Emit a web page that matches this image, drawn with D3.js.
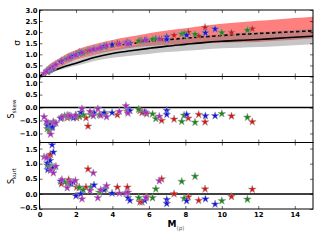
<!DOCTYPE html>
<html>
<head>
<meta charset="utf-8">
<script src="https://cdn.jsdelivr.net/npm/d3@7"></script>
<style>
  body { margin: 0; background: #fff; }
  text { font-family: "DejaVu Sans", sans-serif; }
</style>
</head>
<body>
<script>
// model curves for sigma panel
var massGrid   = [0, 0.5, 1, 1.5, 2, 3, 4, 5, 6, 7, 8, 9, 10, 11, 12, 13, 14, 15];
var redBandHi  = [0, 0.52, 0.78, 1.03, 1.2, 1.45, 1.65, 1.8, 1.95, 2.08, 2.18, 2.29, 2.38, 2.45, 2.51, 2.57, 2.64, 2.7];
var redBandLo  = [0, 0.2, 0.4, 0.58, 0.74, 0.98, 1.16, 1.3, 1.38, 1.43, 1.47, 1.5, 1.52, 1.54, 1.56, 1.61, 1.66, 1.71];
var dashedMean = [0, 0.3, 0.55, 0.75, 0.92, 1.18, 1.36, 1.48, 1.58, 1.66, 1.73, 1.79, 1.85, 1.9, 1.94, 1.98, 2.02, 2.06];
var solidMean  = [0, 0.17, 0.34, 0.48, 0.6, 0.86, 1.04, 1.16, 1.27, 1.37, 1.45, 1.53, 1.59, 1.63, 1.67, 1.72, 1.77, 1.82];
var grayBandHi = [0, 0.21, 0.41, 0.58, 0.72, 1.02, 1.23, 1.38, 1.52, 1.64, 1.74, 1.84, 1.91, 1.96, 2.01, 2.05, 2.1, 2.15];
var grayBandLo = [0, 0.13, 0.27, 0.38, 0.48, 0.7, 0.85, 0.94, 1.02, 1.1, 1.16, 1.22, 1.27, 1.3, 1.33, 1.37, 1.41, 1.45];

// star points
var redM     = [0.47, 0.54, 0.60, 1.20, 1.52, 1.60, 2.04, 2.18, 2.55, 2.66, 4.27, 4.82, 5.51, 5.62, 5.88, 6.70, 7.38, 8.16, 8.73, 9.08, 10.53, 11.67];
var redSigma = [0.28, 0.32, 0.36, 0.70, 0.80, 0.86, 0.98, 1.10, 1.12, 1.18, 1.50, 1.55, 1.62, 1.62, 1.66, 1.68, 1.86, 2.00, 1.83, 2.21, 1.98, 2.15];
var redSkew  = [-0.60, -0.90, -0.65, -0.40, -0.40, -0.32, -0.40, -0.35, -0.40, -0.72, -0.28, -0.15, -0.12, -0.20, -0.25, -0.50, -0.45, -0.41, -0.27, -0.56, -0.33, -0.55];
var redKurt  = [1.22, 1.25, 1.30, 0.33, 0.35, 0.47, 0.22, 0.22, 0.22, 0.82, 0.22, 0.22, -0.27, -0.27, -0.10, 0.49, 0.00, -0.10, -0.22, 0.16, -0.09, 0.15];

var greenM     = [0.43, 0.54, 0.61, 0.80, 1.38, 1.63, 2.18, 2.40, 2.81, 3.28, 3.61, 5.44, 6.20, 6.38, 7.80, 7.93, 8.53, 10.0, 11.4];
var greenSigma = [0.24, 0.30, 0.34, 0.46, 0.76, 0.84, 1.02, 1.08, 1.18, 1.28, 1.35, 1.60, 1.68, 1.72, 1.92, 1.94, 1.91, 1.98, 2.09];
var greenSkew  = [-0.82, -0.85, -0.75, -0.60, -0.32, -0.35, -0.32, -0.28, -0.28, -0.28, -0.25, -0.07, -0.25, -0.43, -0.54, -0.30, -0.57, -0.24, -0.38];
var greenKurt  = [0.95, 0.94, 0.80, 0.89, 0.39, 0.35, 0.20, 0.13, 0.22, 0.05, 0.17, -0.13, -0.13, 0.16, 0.41, -0.15, 0.58, -0.23, -0.18];

var blueM     = [0.43, 0.45, 0.58, 0.69, 0.72, 0.76, 1.16, 1.74, 1.86, 2.00, 2.26, 2.99, 3.54, 3.98, 4.85, 4.96, 5.77, 6.98, 6.98, 8.07, 9.10, 9.63];
var blueSigma = [0.22, 0.24, 0.32, 0.38, 0.40, 0.44, 0.66, 0.90, 0.94, 0.98, 1.06, 1.24, 1.36, 1.44, 1.52, 1.50, 1.64, 1.79, 1.67, 1.86, 1.97, 2.14];
var blueSkew  = [-0.70, -0.65, -0.67, -0.78, -0.74, -0.55, -0.42, -0.35, -0.40, -0.30, -0.18, -0.20, -0.20, -0.20, -0.09, -0.12, -0.17, -0.11, -0.27, -0.27, -0.32, -0.32];
var blueKurt  = [1.02, 0.80, 1.10, 1.62, 0.85, 1.38, 0.42, 0.33, 0.38, -0.07, 0.00, 0.29, 0.13, 0.02, -0.13, -0.22, -0.22, -0.19, -0.32, -0.23, -0.17, -0.34];

var magM     = [0.25, 0.39, 0.61, 0.76, 0.90, 1.23, 1.52, 1.67, 1.97, 2.33, 2.77, 2.95, 3.20, 3.36, 3.68, 4.38, 4.74, 4.85, 5.84, 6.57];
var magSigma = [0.14, 0.22, 0.36, 0.44, 0.54, 0.70, 0.80, 0.86, 0.96, 1.08, 1.18, 1.22, 1.26, 1.30, 1.40, 1.48, 1.52, 1.46, 1.64, 1.70];
var magSkew  = [-0.36, -0.54, -1.03, -0.57, -0.60, -0.37, -0.30, -0.32, -0.30, -0.05, -0.15, -0.32, -0.05, -0.30, -0.36, -0.15, 0.07, -0.22, -0.20, -0.34];
var magKurt  = [1.22, 1.20, 0.78, 0.69, 0.91, 0.47, 0.20, 0.40, 0.44, -0.17, 0.11, 0.69, -0.13, 0.13, 0.27, 0.02, 0.03, 0.05, -0.13, 0.43];

var xTicks = [0, 2, 4, 6, 8, 10, 12, 14];
var sigmaTicks = [0, 0.5, 1, 1.5, 2, 2.5, 3];
var skewTicks = [-1, -0.5, 0, 0.5, 1];
var kurtTicks = [-0.5, 0, 0.5, 1, 1.5];

var width = 320, height = 240;
var left = 39.5, right = 313;

var series = [
  {color: "#e01010", m: redM, s: redSigma, k1: redSkew, k2: redKurt},
  {color: "#138a13", m: greenM, s: greenSigma, k1: greenSkew, k2: greenKurt},
  {color: "#1010f0", m: blueM, s: blueSigma, k1: blueSkew, k2: blueKurt},
  {color: "#b521c8", m: magM, s: magSigma, k1: magSkew, k2: magKurt}
];

var svg = d3.select("body").append("svg")
    .attr("width", width)
    .attr("height", height);

var x = d3.scaleLinear().domain([0, 15]).range([left, right]);

var panels = [
  {top: 10, bottom: 76.5, domain: [0, 3], ticks: sigmaTicks, key: "s", zero: false},
  {top: 76.5, bottom: 142.5, domain: [-1.35, 1.2], ticks: skewTicks, key: "k1", zero: true},
  {top: 142.5, bottom: 209, domain: [-0.5, 1.7], ticks: kurtTicks, key: "k2", zero: true}
];

var fmt = d3.format(".1f");

panels.forEach(function(p, i) {
  var y = d3.scaleLinear().domain(p.domain).range([p.bottom, p.top]);
  var g = svg.append("g");
  var clipId = "clip" + i;
  svg.append("clipPath").attr("id", clipId)
    .append("rect")
      .attr("x", left).attr("y", p.top)
      .attr("width", right - left).attr("height", p.bottom - p.top);

  var plot = g.append("g").attr("clip-path", "url(#" + clipId + ")");

  if (i === 0) {
    var band = function(lo, hi) {
      return d3.area()
        .x(function(d, j) { return x(massGrid[j]); })
        .y0(function(d, j) { return y(lo[j]); })
        .y1(function(d, j) { return y(hi[j]); })
        .curve(d3.curveMonotoneX)(massGrid);
    };
    var line = function(vals) {
      return d3.line()
        .x(function(d, j) { return x(massGrid[j]); })
        .y(function(d, j) { return y(vals[j]); })
        .curve(d3.curveMonotoneX)(massGrid);
    };
    plot.append("path").attr("d", band(redBandLo, redBandHi))
      .attr("fill", "#ff0000").attr("fill-opacity", 0.5);
    plot.append("path").attr("d", band(grayBandLo, grayBandHi))
      .attr("fill", "#808080").attr("fill-opacity", 0.45);
    plot.append("path").attr("d", line(dashedMean))
      .attr("fill", "none").attr("stroke", "#000").attr("stroke-width", 1.6)
      .attr("stroke-dasharray", "3.5,2.5");
    plot.append("path").attr("d", line(solidMean))
      .attr("fill", "none").attr("stroke", "#000").attr("stroke-width", 1.6);
  }

  if (p.zero) {
    plot.append("line")
      .attr("x1", left).attr("x2", right)
      .attr("y1", y(0)).attr("y2", y(0))
      .attr("stroke", "#000").attr("stroke-width", 1.5);
  }

  // stars
  series.forEach(function(sr) {
    plot.append("g").selectAll("path")
      .data(sr.m)
      .join("path")
        .attr("transform", function(d, j) { return "translate(" + x(d) + "," + y(sr[p.key][j]) + ")"; })
        .attr("d", d3.symbol().type(d3.symbolStar).size(19))
        .attr("fill", sr.color)
        .attr("stroke", "#9a9a9a")
        .attr("stroke-width", 0.5);
  });

  // axes, ticks pointing inward
  var ya = g.append("g")
      .attr("transform", "translate(" + left + ",0)")
      .call(d3.axisLeft(y).tickValues(p.ticks).tickFormat(fmt).tickSize(-3).tickPadding(2))
      .call(function(a) { a.select(".domain").remove(); })
      .call(function(a) { a.selectAll("text").attr("font-size", 6.8).attr("font-weight", "bold").attr("fill", "#000"); });
  // keep the stacked 0.0 / 1.0 labels apart at the panel seams
  ya.selectAll(".tick text")
      .attr("dy", function(d) {
        if (d === p.domain[0] || (i === 2 && d === -0.5)) return "0.1em";
        if (i > 0 && d === p.ticks[p.ticks.length - 1]) return "0.5em";
        return "0.32em";
      });
  g.append("g")
      .attr("transform", "translate(" + right + ",0)")
      .call(d3.axisRight(y).tickValues(p.ticks).tickFormat("").tickSize(-3))
      .call(function(a) { a.select(".domain").remove(); });
  g.append("g")
      .attr("transform", "translate(0," + p.top + ")")
      .call(d3.axisTop(x).tickValues(xTicks).tickFormat("").tickSize(-3))
      .call(function(a) { a.select(".domain").remove(); });
  var xb = g.append("g")
      .attr("transform", "translate(0," + p.bottom + ")")
      .call(d3.axisBottom(x).tickValues(xTicks).tickSize(-3).tickPadding(3))
      .call(function(a) { a.select(".domain").remove(); });
  if (i === 2) {
    xb.selectAll("text").attr("font-size", 6.8).attr("font-weight", "bold").attr("fill", "#000");
  } else {
    xb.selectAll("text").remove();
  }
  g.selectAll(".tick line").attr("stroke", "#000").attr("stroke-width", 0.6);

  g.append("rect")
    .attr("x", left).attr("y", p.top)
    .attr("width", right - left).attr("height", p.bottom - p.top)
    .attr("fill", "none").attr("stroke", "#000").attr("stroke-width", 1);
});

//label for y-axes
svg.append("text")
    .attr("transform", "translate(20,43) rotate(-90)")
    .attr("text-anchor", "middle")
    .attr("font-size", 9)
    .text("σ");

var skewLabel = svg.append("text")
    .attr("transform", "translate(14,109) rotate(-90)")
    .attr("text-anchor", "middle")
    .attr("font-size", 8);
skewLabel.append("tspan").text("S");
skewLabel.append("tspan").attr("font-size", 5.5).attr("dy", 2).text("skew");

var kurtLabel = svg.append("text")
    .attr("transform", "translate(14,176) rotate(-90)")
    .attr("text-anchor", "middle")
    .attr("font-size", 8);
kurtLabel.append("tspan").text("S");
kurtLabel.append("tspan").attr("font-size", 5.5).attr("dy", 2).text("kurt");

//label for x-axis
var xLabel = svg.append("text")
    .attr("x", 176)
    .attr("y", 227)
    .attr("text-anchor", "middle");
xLabel.append("tspan").attr("font-size", 9).attr("font-weight", "bold").text("M");
xLabel.append("tspan").attr("font-size", 5.5).attr("dy", 2.5).attr("fill", "#555").text("⟨ρ⟩");
</script>
</body>
</html>
